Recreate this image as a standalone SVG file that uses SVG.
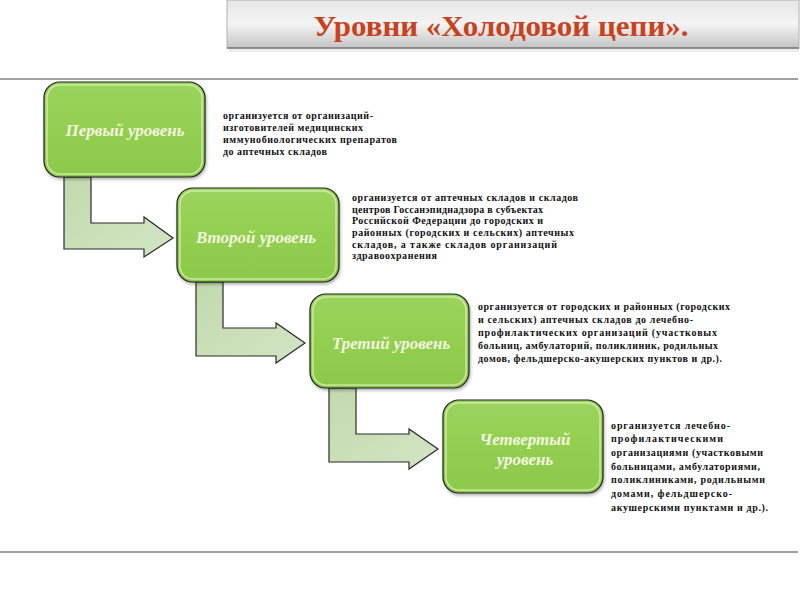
<svg xmlns="http://www.w3.org/2000/svg" width="800" height="600" viewBox="0 0 800 600">
<defs>
<linearGradient id="ban" x1="0" y1="0" x2="0" y2="1">
<stop offset="0" stop-color="#e6e6e6"/><stop offset="0.5" stop-color="#f4f4f4"/><stop offset="1" stop-color="#c4c4c4"/>
</linearGradient>
<linearGradient id="box" x1="0" y1="0" x2="0" y2="1">
<stop offset="0" stop-color="#9cd45e"/><stop offset="0.5" stop-color="#92cf50"/><stop offset="1" stop-color="#8cc84a"/>
</linearGradient>
<linearGradient id="arr" x1="0" y1="0" x2="1" y2="1">
<stop offset="0" stop-color="#c2d9ad"/><stop offset="1" stop-color="#d3e5c4"/>
</linearGradient>
<filter id="sh" x="-10%" y="-10%" width="130%" height="130%">
<feDropShadow dx="1" dy="2" stdDeviation="1.5" flood-color="#000" flood-opacity="0.3"/>
</filter>
</defs>
<style>
.box{fill:url(#box);stroke:#1e1e1e;stroke-width:1.2}
.hl{fill:none;stroke:#d8f0b8;stroke-width:1.5;opacity:0.8}
.lbl{font-family:"Liberation Serif",serif;font-style:italic;font-weight:bold;font-size:17px;fill:#f3f6de;text-anchor:middle}
.desc{font-family:"Liberation Serif",serif;font-weight:bold;font-size:10px;fill:#111}
.arrow{fill:url(#arr);stroke:#2a2a2a;stroke-width:1.2;stroke-linejoin:miter}
.rule{stroke:#808080;stroke-width:1.5}
</style>
<rect width="800" height="600" fill="#ffffff"/>
<g id="title">
<rect x="227" y="0" width="572" height="48" fill="url(#ban)" stroke="#b0b0b0" stroke-width="1"/>
<line x1="227" y1="48" x2="799" y2="48" stroke="#7a7a7a" stroke-width="1.5"/>
<rect x="229" y="49" width="570" height="3" fill="#ececec"/>
<text x="501" y="36" font-family="Liberation Serif, serif" font-weight="bold" font-size="30" fill="#c8421e" text-anchor="middle" textLength="375" lengthAdjust="spacingAndGlyphs">Уровни «Холодовой цепи».</text>
</g>
<line class="rule" x1="0" y1="79" x2="798" y2="79"/>
<line class="rule" x1="0" y1="552" x2="798" y2="552"/>
<g id="connectors">
<polygon class="arrow" points="64,177 91,177 91,223 144,223 144,217 173,238 144,257 144,249 64,249"/>
<polygon class="arrow" points="196,282 223,282 223,328 276,328 276,323 305,343 276,363 276,356 196,356"/>
<polygon class="arrow" points="329,388 356,388 356,434 409,434 409,429 438,449 409,469 409,462 329,462"/>
</g>
<g id="level1">
<rect class="box" x="44" y="82" width="161" height="95" rx="16" filter="url(#sh)"/>
<rect class="hl" x="47" y="85" width="155" height="89" rx="13"/>
<text class="lbl" x="125" y="136">Первый уровень</text>
</g>
<g id="level2">
<rect class="box" x="177" y="188" width="162" height="94" rx="16" filter="url(#sh)"/>
<rect class="hl" x="180" y="191" width="156" height="88" rx="13"/>
<text class="lbl" x="256" y="243">Второй уровень</text>
</g>
<g id="level3">
<rect class="box" x="310" y="294" width="159" height="94" rx="16" filter="url(#sh)"/>
<rect class="hl" x="313" y="297" width="153" height="88" rx="13"/>
<text class="lbl" x="391" y="349">Третий уровень</text>
</g>
<g id="level4">
<rect class="box" x="443" y="400" width="160" height="93" rx="16" filter="url(#sh)"/>
<rect class="hl" x="446" y="403" width="154" height="87" rx="13"/>
<text class="lbl" x="525" y="445">Четвертый</text>
<text class="lbl" x="525" y="465">уровень</text>
</g>
<g id="desc1" class="desc">
<text x="223" y="118.5" textLength="150" lengthAdjust="spacing">организуется от организаций-</text>
<text x="223" y="130.5" textLength="140" lengthAdjust="spacing">изготовителей медицинских</text>
<text x="223" y="142.5" textLength="174" lengthAdjust="spacing">иммунобиологических препаратов</text>
<text x="223" y="154.5" textLength="104" lengthAdjust="spacing">до аптечных складов</text>
</g>
<g id="desc2" class="desc">
<text x="352" y="201" textLength="226" lengthAdjust="spacing">организуется от аптечных складов и складов</text>
<text x="352" y="212.5" textLength="191" lengthAdjust="spacing">центров Госсанэпиднадзора в субъектах</text>
<text x="352" y="224" textLength="191" lengthAdjust="spacing">Российской Федерации до городских и</text>
<text x="352" y="236" textLength="222" lengthAdjust="spacing">районных (городских и сельских) аптечных</text>
<text x="352" y="247.5" textLength="205" lengthAdjust="spacing">складов, а также складов организаций</text>
<text x="352" y="259" textLength="85" lengthAdjust="spacing">здравоохранения</text>
</g>
<g id="desc3" class="desc">
<text x="478" y="309.5" textLength="252" lengthAdjust="spacing">организуется от городских и районных (городских</text>
<text x="478" y="322.5" textLength="215" lengthAdjust="spacing">и сельских) аптечных складов до лечебно-</text>
<text x="478" y="335.5" textLength="239" lengthAdjust="spacing">профилактических организаций (участковых</text>
<text x="478" y="348.5" textLength="240" lengthAdjust="spacing">больниц, амбулаторий, поликлиник, родильных</text>
<text x="478" y="361.5" textLength="244" lengthAdjust="spacing">домов, фельдшерско-акушерских пунктов и др.).</text>
</g>
<g id="desc4" class="desc">
<text x="611" y="428.5" textLength="119" lengthAdjust="spacing">организуется лечебно-</text>
<text x="611" y="442" textLength="112" lengthAdjust="spacing">профилактическими</text>
<text x="611" y="456" textLength="152" lengthAdjust="spacing">организациями (участковыми</text>
<text x="611" y="469.5" textLength="149" lengthAdjust="spacing">больницами, амбулаториями,</text>
<text x="611" y="483" textLength="154" lengthAdjust="spacing">поликлиниками, родильными</text>
<text x="611" y="497" textLength="121" lengthAdjust="spacing">домами, фельдшерско-</text>
<text x="611" y="511" textLength="157" lengthAdjust="spacing">акушерскими пунктами и др.).</text>
</g>
</svg>
